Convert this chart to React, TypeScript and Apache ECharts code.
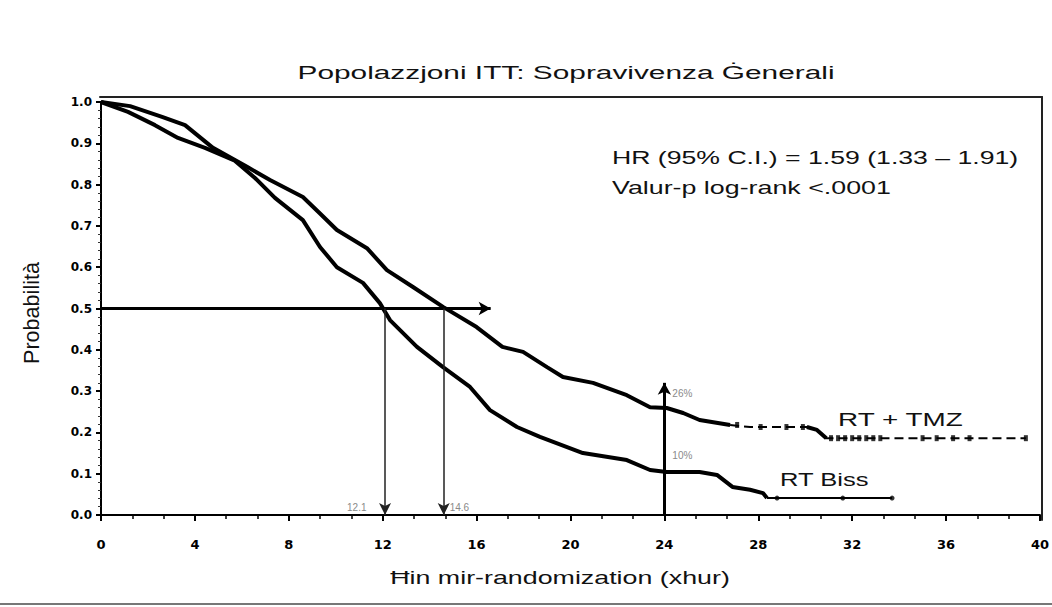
import React, { useEffect, useRef } from "react";
import * as echarts from "echarts";

const TITLE = "Popolazzjoni ITT: Sopravivenza Ġenerali";
const X_NAME = "Ħin mir-randomization (xhur)";
const Y_NAME = "Probabilità";
const STATS = ["HR (95% C.I.) = 1.59 (1.33 – 1.91)", "Valur-p log-rank <.0001"];
const LABEL_TMZ = "RT + TMZ";
const LABEL_RT = "RT Biss";

// Kaplan-Meier curve: [months, survival]
const TMZ_CURVE: [number, number][] = [
  [0, 1.0], [1.24, 0.99], [2.6, 0.964], [3.58, 0.944], [4.77, 0.889], [6.22, 0.843],
  [7.2, 0.811], [8.6, 0.77], [9.33, 0.73], [10.05, 0.69], [11.33, 0.646], [12.18, 0.593],
  [13.29, 0.552], [14.57, 0.504], [16.0, 0.455], [17.1, 0.407], [17.98, 0.395],
  [19.0, 0.358], [19.68, 0.334], [20.96, 0.32], [22.4, 0.29], [23.39, 0.261],
  [24.1, 0.259], [24.8, 0.247], [25.5, 0.23], [26.8, 0.218], [27.65, 0.213],
  [30.07, 0.213], [30.5, 0.206], [30.9, 0.186], [39.4, 0.186],
];
const RT_CURVE: [number, number][] = [
  [0, 1.0], [1.15, 0.976], [2.3, 0.944], [3.28, 0.913], [4.43, 0.889], [5.7, 0.858],
  [6.56, 0.816], [7.41, 0.768], [8.6, 0.714], [9.33, 0.649], [10.05, 0.6], [11.16, 0.562],
  [11.88, 0.513], [12.31, 0.472], [13.46, 0.407], [14.57, 0.358], [15.72, 0.31],
  [16.57, 0.254], [17.72, 0.213], [18.7, 0.189], [20.53, 0.15], [22.4, 0.133],
  [23.39, 0.109], [24.1, 0.104], [25.5, 0.104], [26.24, 0.097], [26.9, 0.068],
  [27.65, 0.061], [28.2, 0.053], [28.37, 0.041], [33.7, 0.041],
];
const TMZ_CENSOR = [27.1, 28.1, 29.2, 29.9, 31.1, 31.4, 31.7, 32.0, 32.3, 32.6, 32.9, 33.2, 35.0, 35.6, 36.3, 37.0, 39.4];
const RT_CENSOR = [28.8, 31.6, 33.7];

const MEDIAN_RT = 12.1;
const MEDIAN_TMZ = 14.6;
const MEDIAN_LEVEL = 0.5;
const MEDIAN_ARROW_END = 16.6;
const LANDMARK = 24;
const LANDMARK_TOP = 0.32;
const LANDMARK_TMZ = "26%";
const LANDMARK_RT = "10%";
const X_TICKS = [0, 4, 8, 12, 16, 20, 24, 28, 32, 36, 40];

const FONT = "'Liberation Sans', Arial, sans-serif";
const TICK_FONT = "'DejaVu Sans', sans-serif";

function survAt(curve: [number, number][], t: number) {
  let s = curve[0][1];
  for (const [ct, cs] of curve) {
    if (ct <= t) s = cs;
  }
  return s;
}

function label(id: string, text: string, x: number, y: number, size: number, scaleX: number, align = "left") {
  return {
    id,
    type: "text",
    x,
    y,
    scaleX,
    silent: true,
    style: { text, fill: "#111", font: `${size}px ${FONT}`, textAlign: align, textVerticalAlign: "middle" },
  };
}

const frameAxis = (position: string) => ({
  type: "value",
  gridIndex: 1,
  position,
  min: 0,
  max: 1,
  axisLine: { show: true, onZero: false, lineStyle: { color: "#222", width: 2 } },
  axisTick: { show: false },
  axisLabel: { show: false },
  splitLine: { show: false },
});

export default function App() {
  const ref = useRef<HTMLDivElement>(null);
  useEffect(() => {
    if (!ref.current) return;
    const chart = echarts.init(ref.current, undefined, { renderer: "svg" });

    const thick = { color: "#000", width: 4 };
    const tmzMain = TMZ_CURVE.filter((p) => p[0] <= 26.8);
    const tmzTail = TMZ_CURVE.filter((p) => p[0] >= 26.8);
    const tmzDrop = TMZ_CURVE.filter((p) => p[0] >= 30.07 && p[0] <= 30.9);
    const rtMain = RT_CURVE.filter((p) => p[0] <= 28.37);
    const rtTail = RT_CURVE.filter((p) => p[0] >= 28.37);

    const arrowLine = (x1: number, y1: number, x2: number, y2: number, width: number, color: string, size: number[]) => [
      { coord: [x1, y1], symbol: "none", lineStyle: { width, color, type: "solid" } },
      { coord: [x2, y2], symbol: "arrow", symbolSize: size },
    ];

    chart.setOption({
      animation: false,
      grid: [
        { left: 101, right: 12, top: 102, bottom: 92 },
        { left: 100, right: 10, top: 97, bottom: 87 },
      ],
      xAxis: [
        {
          type: "value",
          gridIndex: 0,
          min: 0,
          max: 40,
          interval: 4,
          offset: 5,
          axisLine: { show: true, lineStyle: { color: "#000", width: 2 } },
          axisTick: { show: true, length: 6, lineStyle: { color: "#000", width: 2 } },
          minorTick: { show: true, splitNumber: 3, length: 4, lineStyle: { color: "#000", width: 1.5 } },
          splitLine: { show: false },
          axisLabel: {
            margin: 18,
            color: "#000",
            fontSize: 13,
            fontWeight: "bold",
            fontFamily: TICK_FONT,
            formatter: (v: number) => (X_TICKS.includes(v) ? String(v) : ""),
          },
        },
        frameAxis("top"),
      ],
      yAxis: [
        {
          type: "value",
          gridIndex: 0,
          min: 0,
          max: 1,
          interval: 0.1,
          axisLine: { show: true, lineStyle: { color: "#000", width: 2 } },
          axisTick: { show: true, length: 5, lineStyle: { color: "#000", width: 2 } },
          minorTick: { show: true, splitNumber: 5, length: 3, lineStyle: { color: "#333", width: 1 } },
          splitLine: { show: false },
          axisLabel: {
            margin: 9,
            color: "#000",
            fontSize: 12,
            fontWeight: "bold",
            fontFamily: TICK_FONT,
            formatter: (v: number) => v.toFixed(1),
          },
        },
        frameAxis("right"),
      ],
      series: [
        { type: "line", data: tmzMain, showSymbol: false, lineStyle: thick, silent: true, z: 3 },
        { type: "line", data: tmzTail, showSymbol: false, lineStyle: { color: "#000", width: 2, type: [9, 5] }, silent: true, z: 3 },
        { type: "line", data: tmzDrop, showSymbol: false, lineStyle: thick, silent: true, z: 3 },
        { type: "line", data: rtMain, showSymbol: false, lineStyle: thick, silent: true, z: 3 },
        { type: "line", data: rtTail, showSymbol: false, lineStyle: { color: "#000", width: 2 }, silent: true, z: 3 },
        {
          type: "scatter",
          data: TMZ_CENSOR.map((t) => [t, survAt(TMZ_CURVE, t)]),
          symbol: "rect",
          symbolSize: [4, 6],
          itemStyle: { color: "#000" },
          silent: true,
          z: 4,
        },
        {
          type: "scatter",
          data: RT_CENSOR.map((t) => [t, survAt(RT_CURVE, t)]),
          symbol: "circle",
          symbolSize: 5,
          itemStyle: { color: "#000" },
          silent: true,
          z: 4,
        },
        {
          type: "line",
          data: [],
          silent: true,
          markLine: {
            silent: true,
            animation: false,
            label: { show: false },
            lineStyle: { color: "#000", type: "solid" },
            data: [
              arrowLine(0, MEDIAN_LEVEL, MEDIAN_ARROW_END, MEDIAN_LEVEL, 3, "#000", [10, 12]),
              arrowLine(MEDIAN_RT, MEDIAN_LEVEL, MEDIAN_RT, 0, 1.5, "#222", [9, 12]),
              arrowLine(MEDIAN_TMZ, MEDIAN_LEVEL, MEDIAN_TMZ, 0, 1.5, "#222", [9, 12]),
              arrowLine(LANDMARK, 0, LANDMARK, LANDMARK_TOP, 3, "#000", [10, 12]),
            ],
          },
        },
        {
          type: "scatter",
          data: [],
          silent: true,
          markPoint: {
            silent: true,
            symbol: "rect",
            symbolSize: 0,
            label: { show: true, color: "#8a8a8a", fontSize: 10, fontFamily: FONT },
            data: [
              { coord: [LANDMARK, survAt(TMZ_CURVE, LANDMARK)], label: { formatter: LANDMARK_TMZ, position: [8, -19] } },
              { coord: [LANDMARK, survAt(RT_CURVE, LANDMARK)], label: { formatter: LANDMARK_RT, position: [8, -19] } },
              { coord: [MEDIAN_RT, 0], label: { formatter: String(MEDIAN_RT), position: [-38, -13] } },
              { coord: [MEDIAN_TMZ, 0], label: { formatter: String(MEDIAN_TMZ), position: [6, -13] } },
            ],
          },
        },
      ],
      graphic: [
        {
          id: "bottomRule",
          type: "rect",
          shape: { x: 0, y: 603, width: 1052, height: 2 },
          style: { fill: "#777" },
          silent: true,
        },
        label("title", TITLE, 566, 72, 19, 1.57, "center"),
        label("xname", X_NAME, 560, 578, 18, 1.49, "center"),
        {
          id: "yname",
          type: "text",
          x: 31,
          y: 313,
          rotation: Math.PI / 2,
          scaleX: 1.2,
          scaleY: 1.2,
          silent: true,
          style: { text: Y_NAME, fill: "#111", font: `18px ${FONT}`, textAlign: "center", textVerticalAlign: "middle" },
        },
        label("stat0", STATS[0], 612, 158, 18, 1.48),
        label("stat1", STATS[1], 612, 188, 18, 1.49),
        label("ltmz", LABEL_TMZ, 838, 420, 18, 1.55),
        label("lrt", LABEL_RT, 780, 480, 18, 1.42),
      ],
    });
    return () => chart.dispose();
  }, []);
  return (
    <div
      ref={ref}
      style={{ position: "fixed", left: 0, top: 0, width: 1052, height: 607, background: "#fff" }}
    />
  );
}
